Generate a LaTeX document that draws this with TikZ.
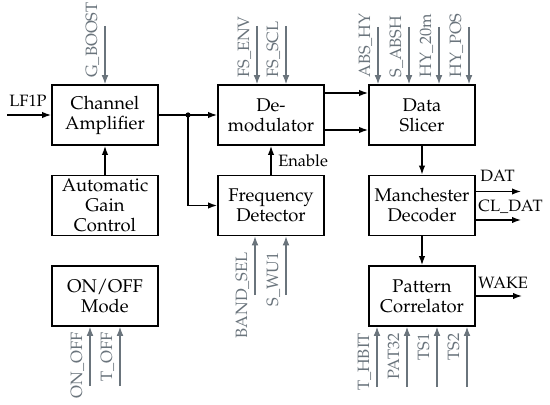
\documentclass[tikz,border=0pt]{standalone}
\usepackage[T1]{fontenc}
\usepackage{mathpazo}
\usetikzlibrary{arrows.meta,calc}
\definecolor{sig}{HTML}{6A747C}
\begin{document}
\begin{tikzpicture}[x=0.5pt,y=-0.5pt,
  blk/.style={draw,line width=0.9pt,minimum width=53pt,minimum height=30pt,align=center,inner sep=0pt,font=\fontsize{9.2}{10}\selectfont},
  arr/.style={draw,line width=0.65pt,-{Latex[length=4.5pt,width=3.2pt]}},
  gin/.style={draw=sig,line width=0.6pt,-{Latex[length=4.5pt,width=3.4pt]}},
  lbl/.style={inner sep=0pt,font=\fontsize{8.2}{9}\selectfont},
  glbl/.style={lbl,text=sig,rotate=90}]
\useasboundingbox (0,0) rectangle (550,405);

% blocks
\node[blk] (ca)  at (105,115)   {Channel\\Amplifier};
\node[blk] (agc) at (105,205.5) {Automatic\\Gain\\Control};
\node[blk] (onm) at (105,296)   {ON/OFF\\Mode};
\node[blk] (dm)  at (271,115)   {De-\\modulator};
\node[blk] (fd)  at (271,205.5) {Frequency\\Detector};
\node[blk] (ds)  at (422,115)   {Data\\Slicer};
\node[blk] (md)  at (422,205.5) {Manchester\\Decoder};
\node[blk] (pc)  at (422,296)   {Pattern\\Correlator};

% main signal path
\coordinate (lfin) at (7,115);
\draw[arr] (lfin) -- (ca.west);
\node[lbl,anchor=base] (lflbl) at (28,107) {LF1P};
\coordinate (split) at (188,115);
\draw[arr] (ca.east) -- (dm.west);
\fill (split) circle[radius=1.3pt];
\draw[arr] (split) |- (fd.west);
\draw[arr] (agc.north) -- (ca.south);
\draw[arr] (fd.north) -- (dm.south);
\node[lbl,anchor=base west] (en) at (278,167) {Enable};
\draw[arr] ($(dm.east)+(0,-22)$) -- ($(ds.west)+(0,-22)$);
\draw[arr] ($(dm.east)+(0,15)$) -- ($(ds.west)+(0,15)$);
\draw[arr] (ds.south) -- (md.north);
\draw[arr] (md.south) -- (pc.north);

% outputs
\coordinate (datend) at (521,191.5);
\coordinate (cldend) at (521,220);
\coordinate (wakend) at (522,296);
\draw[arr] (md.east |- datend) -- (datend);
\draw[arr] (md.east |- cldend) -- (cldend);
\draw[arr] (pc.east) -- (wakend);
\node[lbl,anchor=base west] (datl) at (480,182) {DAT};
\node[lbl,anchor=base west] (cldl) at (478,212) {CL\_DAT};
\node[lbl,anchor=base west] (wakl) at (478,288) {WAKE};

% top control inputs
\foreach \x/\t in {105/G\_BOOST} {
  \coordinate (t\x) at (\x,26);
  \draw[gin] (t\x) -- (t\x |- ca.north);
  \node[glbl,anchor=base west] at (\x-8,78) {\t};
}
\foreach \x/\t in {257/FS\_ENV,286/FS\_SCL} {
  \coordinate (t\x) at (\x,26);
  \draw[gin] (t\x) -- (t\x |- dm.north);
  \node[glbl,anchor=base west] at (\x-8,78) {\t};
}
\foreach \x/\t in {378/ABS\_HY,409/S\_ABSH,439/HY\_20m,469/HY\_POS} {
  \coordinate (t\x) at (\x,27);
  \draw[gin] (t\x) -- (t\x |- ds.north);
  \node[glbl,anchor=base west] at (\x-8,78) {\t};
}

% bottom control inputs
\foreach \x/\t in {255/BAND\_SEL,286/S\_WU1} {
  \coordinate (b\x) at (\x,295);
  \draw[gin] (b\x) -- (b\x |- fd.south);
  \node[glbl,anchor=base east] at (\x-8,252) {\t};
}
\foreach \x/\t in {90/ON\_OFF,120/T\_OFF} {
  \coordinate (b\x) at (\x,386);
  \draw[gin] (b\x) -- (b\x |- onm.south);
  \node[glbl,anchor=base east] at (\x-8,332) {\t};
}
\foreach \x/\t in {377/T\_HBIT,407/PAT32,437/TS1,467/TS2} {
  \coordinate (b\x) at (\x,387);
  \draw[gin] (b\x) -- (b\x |- pc.south);
  \node[glbl,anchor=base east] at (\x-8,333) {\t};
}
\end{tikzpicture}
\end{document}
